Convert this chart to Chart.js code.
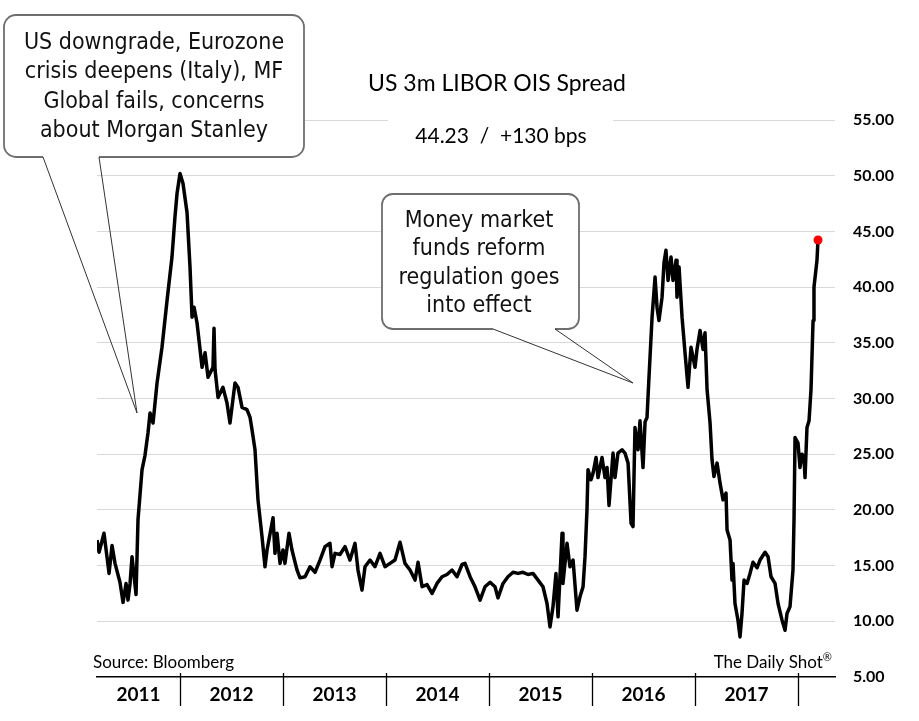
<!DOCTYPE html>
<html><head><meta charset="utf-8">
<script src="https://cdn.jsdelivr.net/npm/chart.js@4.4.1/dist/chart.umd.min.js"></script>
<style>html,body{margin:0;padding:0;background:#fff}#wrap{width:919px;height:721px;position:relative}</style>
</head><body><div id="wrap"><canvas id="c" width="919" height="721"></canvas></div>
<script>
// ---- data (decimal years, spread in bps) ----
const dates = [
2011.194,2011.214,2011.262,2011.311,2011.340,2011.369,2011.417,2011.447,2011.476,2011.495,2011.515,2011.534,2011.573,2011.592,2011.631,2011.660,2011.689,2011.709,2011.738,2011.777,2011.825,2011.874,2011.922,2011.951,2011.971,
2012.000,2012.029,2012.068,2012.097,2012.117,2012.136,2012.165,2012.214,2012.243,2012.272,2012.320,2012.330,2012.340,2012.369,2012.417,2012.456,2012.485,2012.534,2012.563,2012.602,2012.650,2012.680,2012.699,2012.728,2012.757,2012.796,2012.825,2012.845,2012.903,2012.922,2012.942,2012.971,
2013.000,2013.019,2013.058,2013.087,2013.136,2013.165,2013.214,2013.262,2013.311,2013.359,2013.408,2013.456,2013.476,2013.505,2013.553,2013.602,2013.650,2013.699,2013.728,2013.767,2013.796,2013.845,2013.893,2013.942,2013.990,
2014.039,2014.087,2014.136,2014.184,2014.233,2014.282,2014.311,2014.350,2014.398,2014.447,2014.495,2014.544,2014.592,2014.641,2014.689,2014.738,2014.767,2014.816,2014.864,2014.913,2014.961,
2015.010,2015.058,2015.087,2015.136,2015.184,2015.233,2015.282,2015.330,2015.379,2015.427,2015.476,2015.524,2015.563,2015.592,2015.621,2015.650,2015.670,2015.709,2015.718,2015.757,2015.786,2015.816,2015.854,2015.883,2015.913,2015.932,2015.951,2015.961,2015.990,
2016.010,2016.039,2016.058,2016.097,2016.126,2016.146,2016.165,2016.204,2016.223,2016.252,2016.291,2016.320,2016.350,2016.379,2016.398,2016.417,2016.447,2016.466,2016.495,2016.515,2016.534,2016.553,2016.573,2016.583,2016.612,2016.631,2016.650,2016.680,2016.699,2016.718,2016.738,2016.767,2016.786,2016.816,2016.825,2016.845,2016.874,2016.903,2016.932,2016.961,
2017.000,2017.019,2017.049,2017.078,2017.097,2017.117,2017.146,2017.165,2017.184,2017.214,2017.243,2017.272,2017.301,2017.311,2017.340,2017.359,2017.369,2017.388,2017.417,2017.437,2017.456,2017.476,2017.505,2017.534,2017.563,2017.602,2017.631,2017.680,2017.709,2017.738,2017.777,2017.806,2017.845,2017.874,2017.893,2017.922,2017.951,2017.961,2017.971,
2018.000,2018.019,2018.039,2018.058,2018.068,2018.087,2018.107,2018.126,2018.146,2018.155,2018.184,2018.194
];
const spread = [
17.3,16.2,17.9,14.3,16.8,15.2,13.5,11.7,13.4,11.9,13.4,15.8,12.4,19.1,23.6,24.9,26.9,28.7,27.8,31.4,34.6,38.8,42.7,46.3,48.4,
50.2,49.3,46.7,41.8,37.3,38.2,36.8,32.8,34.1,31.9,32.8,36.3,32.6,30.1,31.0,29.6,27.8,31.4,31.0,29.2,29.0,28.3,27.2,25.4,20.9,17.6,14.9,16.4,19.3,16.1,17.9,15.2,
16.4,15.2,17.9,16.4,14.6,13.9,14.0,14.9,14.4,15.5,16.7,17.0,14.9,16.1,16.0,16.7,15.5,17.0,14.6,12.8,14.9,15.5,14.9,16.1,14.9,
15.2,15.5,17.1,15.2,14.6,13.7,15.3,13.1,13.3,12.5,13.4,14.0,14.2,14.6,14.0,15.1,15.2,14.0,13.1,11.9,13.1,
13.5,13.1,12.1,13.4,14.0,14.4,14.3,14.4,14.2,14.3,13.7,13.1,11.6,9.5,11.3,14.3,10.4,17.9,13.4,17.0,14.9,15.5,11.0,12.2,13.1,15.8,20.0,23.6,22.7,
23.3,24.7,22.9,24.7,22.9,23.8,20.4,25.1,22.9,25.1,25.4,25.1,24.2,18.8,18.5,27.4,25.4,28.0,23.8,27.9,28.3,31.9,35.5,37.3,40.9,38.2,37.0,39.1,42.2,43.3,40.6,42.7,40.6,42.4,39.1,41.8,37.3,34.1,31.0,34.6,
32.8,34.4,36.1,34.4,35.9,30.8,27.8,24.5,23.0,24.2,22.4,20.9,21.5,18.2,17.3,13.7,15.2,11.6,10.1,8.6,10.7,13.7,13.4,14.3,15.3,14.8,15.5,16.2,15.8,14.0,13.4,11.6,10.1,9.2,10.7,11.3,14.6,19.1,26.5,
26.0,23.8,25.0,24.7,22.9,27.4,28.0,30.8,37.0,40.0,42.4,44.23
];
const yearLabels = ['2011','2012','2013','2014','2015','2016','2017'];
const yearBoundaries = [2012,2013,2014,2015,2016,2017,2018];
const yTicks = [5,10,15,20,25,30,35,40,45,50,55];
const titleText = 'US 3m LIBOR OIS Spread';
const subtitleText = '44.23  /  +130 bps';
const note1 = ['US downgrade, Eurozone','crisis deepens (Italy), MF','Global fails, concerns','about Morgan Stanley'];
const note2 = ['Money market','funds reform','regulation goes','into effect'];
const sourceText = 'Source: Bloomberg';
const brandText = 'The Daily Shot';
const brandMark = '\u00AE';

const X_MIN = 2011.194, X_MAX = 2018.359;
const BODY = "Lato, 'Open Sans', sans-serif";
const NOTE = "'DejaVu Sans Condensed', 'DejaVu Sans', sans-serif";

function callout(ctx, box, p1, p2, tip, lines, fontPx, baseline0, lh, cx) {
  const {l,t,r,b,rad} = box;
  ctx.save();
  ctx.beginPath();
  ctx.moveTo(l+rad,t); ctx.lineTo(r-rad,t); ctx.arcTo(r,t,r,t+rad,rad);
  ctx.lineTo(r,b-rad); ctx.arcTo(r,b,r-rad,b,rad);
  ctx.lineTo(l+rad,b); ctx.arcTo(l,b,l,b-rad,rad);
  ctx.lineTo(l,t+rad); ctx.arcTo(l,t,l+rad,t,rad); ctx.closePath();
  ctx.fillStyle = '#fff'; ctx.fill();
  ctx.beginPath();
  ctx.moveTo(p1,b); ctx.lineTo(l+rad,b); ctx.arcTo(l,b,l,b-rad,rad);
  ctx.lineTo(l,t+rad); ctx.arcTo(l,t,l+rad,t,rad);
  ctx.lineTo(r-rad,t); ctx.arcTo(r,t,r,t+rad,rad);
  ctx.lineTo(r,b-rad); ctx.arcTo(r,b,r-rad,b,rad); ctx.lineTo(p2,b);
  ctx.strokeStyle = '#6e6e6e'; ctx.lineWidth = 1.8; ctx.stroke();
  ctx.beginPath(); ctx.moveTo(p1,b); ctx.lineTo(tip[0],tip[1]); ctx.lineTo(p2,b);
  ctx.strokeStyle = '#333'; ctx.lineWidth = 1; ctx.stroke();
  ctx.fillStyle = '#111'; ctx.font = fontPx + 'px ' + NOTE;
  ctx.textAlign = 'center'; ctx.textBaseline = 'alphabetic';
  lines.forEach((s,i) => ctx.fillText(s, cx, baseline0 + i*lh));
  ctx.restore();
}

const annotPlugin = {
  id: 'annot',
  afterDraw(chart) {
    const ctx = chart.ctx, xs = chart.scales.x, ca = chart.chartArea;
    ctx.save();
    ctx.strokeStyle = '#000'; ctx.lineWidth = 1.3;
    yearBoundaries.forEach(b => {
      const px = Math.round(xs.getPixelForValue(b)) + 0.5;
      ctx.beginPath(); ctx.moveTo(px, ca.bottom - 4); ctx.lineTo(px, ca.bottom + 29); ctx.stroke();
    });
    ctx.fillStyle = '#000'; ctx.textAlign = 'center'; ctx.textBaseline = 'middle';
    ctx.font = '23px ' + BODY; ctx.fillText(titleText, 497, 84);
    ctx.fillStyle = '#fff'; ctx.fillRect(388, 104, 225, 50);
    ctx.fillStyle = '#000'; ctx.font = '21px ' + BODY; ctx.fillText(subtitleText, 501, 136);
    ctx.textBaseline = 'alphabetic';
    ctx.font = '17px ' + BODY; ctx.textAlign = 'left'; ctx.fillText(sourceText, 93, 668);
    ctx.font = '11px ' + BODY; const mw = ctx.measureText(brandMark).width;
    ctx.textAlign = 'right'; ctx.fillText(brandMark, 832, 661);
    ctx.font = '17px ' + BODY; ctx.fillText(brandText, 832 - mw, 668);
    ctx.restore();
    callout(ctx, {l:4,t:15,r:304,b:157,rad:12}, 43, 99, [137,413], note1, 23, 49, 29.3, 154);
    callout(ctx, {l:382,t:194,r:579,b:329,rad:11}, 493, 555, [633,383], note2, 23, 227, 28.3, 479);
  }
};

new Chart(document.getElementById('c'), {
  type: 'line',
  data: {
    datasets: [{
      data: dates.map((d,i) => ({x: d, y: spread[i]})),
      borderColor: '#000', borderWidth: 3.5, tension: 0,
      borderJoinStyle: 'round',
      pointRadius: c => c.dataIndex === spread.length - 1 ? 4.5 : 0,
      pointBackgroundColor: '#ff0000', pointBorderWidth: 0, pointHoverRadius: 0
    }]
  },
  options: {
    responsive: false, animation: false, devicePixelRatio: 1,
    layout: { padding: { left: 97, top: 120, right: 0, bottom: 0 } },
    plugins: { legend: {display:false}, tooltip: {enabled:false}, title:{display:false} },
    scales: {
      x: {
        type: 'linear', position: 'bottom', min: X_MIN, max: X_MAX,
        afterBuildTicks: s => { s.ticks = yearLabels.map((l,i) => ({ value: i === 0 ? (X_MIN + 2012) / 2 : 2011 + i + 0.5 })); },
        afterFit: s => { s.height = 44; },
        grid: { display: false, drawTicks: false },
        border: { display: true, color: '#000', width: 1.5 },
        ticks: { callback: (v, i) => yearLabels[i], autoSkip: false, maxRotation: 0, color: '#000',
                 font: { family: BODY, size: 19, weight: 'bold' }, padding: 6 }
      },
      y: {
        type: 'linear', position: 'right', min: 5, max: 55,
        afterBuildTicks: s => { s.ticks = yTicks.map(v => ({ value: v })); },
        afterFit: s => { s.width = 84; },
        grid: { color: c => (c.tick && c.tick.value === 5) ? 'rgba(0,0,0,0)' : '#d9d9d9', lineWidth: 1, drawTicks: false },
        border: { display: false },
        ticks: { callback: v => Number(v).toFixed(2), color: '#000', padding: 18,
                 font: { family: BODY, size: 16, weight: 'bold' } }
      }
    }
  },
  plugins: [annotPlugin]
});
</script></body></html>
